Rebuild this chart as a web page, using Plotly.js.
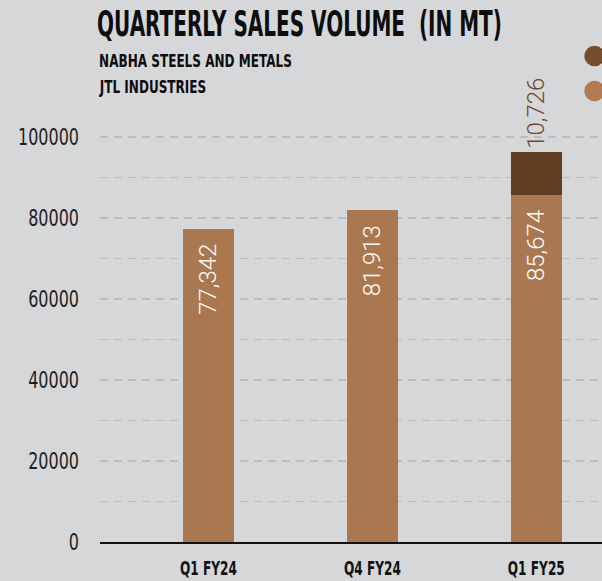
<!DOCTYPE html>
<html>
<head>
<meta charset="utf-8">
<script src="https://cdn.plot.ly/plotly-3.0.1.min.js"></script>
<style>
  html, body { margin: 0; padding: 0; background: #d6d7d9; overflow: hidden; }
  #chart { width: 602px; height: 581px; }
</style>
</head>
<body>
<div id="chart"></div>
<script>
// ---- data ----
const categories = ["Q1 FY24", "Q4 FY24", "Q1 FY25"];
const seriesNames = ["NABHA STEELS AND METALS", "JTL INDUSTRIES"];
const jtlValues = [77342, 81913, 85674];
const nabhaValues = [null, null, 10726];
const yTickVals = [0, 10000, 20000, 30000, 40000, 50000, 60000, 70000, 80000, 90000, 100000];
const yTickText = ["0", "", "20000", "", "40000", "", "60000", "", "80000", "", "100000"];
const titleText = "QUARTERLY SALES VOLUME\u00a0 (IN MT)";

// ---- style ----
const BG = "#d6d7d9";
const JTL_COLOR = "#aa7850";
const NABHA_COLOR = "#613e23";
const SANS = "DejaVu Sans, sans-serif";
const fmt = v => v == null ? "" : v.toLocaleString("en-US");

const traces = [
  {
    type: "bar", name: seriesNames[1], x: categories, y: jtlValues,
    marker: { color: JTL_COLOR },
    text: jtlValues.map(fmt), texttemplate: "%{text}\u00a0\u00a0",
    textposition: "inside", insidetextanchor: "end", textangle: -90,
    constraintext: "none",
    insidetextfont: { family: "Roboto, sans-serif", size: 24, color: "#ffffff", weight: 300 },
    hoverinfo: "skip", showlegend: false
  },
  {
    type: "bar", name: seriesNames[0], x: categories, y: nabhaValues,
    marker: { color: NABHA_COLOR },
    text: nabhaValues.map(fmt), texttemplate: "%{text}",
    textposition: "outside", textangle: -90, constraintext: "none", cliponaxis: false,
    outsidetextfont: { family: "Roboto, sans-serif", size: 24, color: "#6b4a30", weight: 300 },
    hoverinfo: "skip", showlegend: false
  },
  // legend symbols (circles); the series names are shown as labels at top left
  {
    type: "scatter", mode: "markers", name: " ", legendrank: 1,
    x: [categories[2]], y: [null],
    marker: { color: "#774c2b", size: 20, symbol: "circle" }, showlegend: true, hoverinfo: "skip"
  },
  {
    type: "scatter", mode: "markers", name: "\u00a0", legendrank: 2,
    x: [categories[2]], y: [null],
    marker: { color: "#b07b55", size: 20, symbol: "circle" }, showlegend: true, hoverinfo: "skip"
  }
];

const PLOT_TOP = 117, PLOT_BOTTOM = 542;
const PH = PLOT_BOTTOM - PLOT_TOP;

const layout = {
  width: 602, height: 581,
  paper_bgcolor: BG, plot_bgcolor: BG,
  margin: { l: 100, r: 0, t: PLOT_TOP, b: 581 - PLOT_BOTTOM, autoexpand: false },
  barmode: "stack", bargap: 0.69,
  font: { family: SANS, color: "#1a1a1a" },
  title: {
    text: titleText, x: 97 / 602, xanchor: "left", xref: "container",
    y: 1 - 24 / 581, yanchor: "middle", yref: "container",
    font: { family: SANS, size: 35, weight: 700, color: "#0d0d0d" }
  },
  xaxis: {
    type: "category", categoryorder: "array", categoryarray: categories,
    range: [-0.662, 2.401], showgrid: false, zeroline: false,
    showline: true, linecolor: "#111111", linewidth: 2,
    ticks: "", ticklabelstandoff: 8,
    tickfont: { family: SANS, size: 19, weight: 700, color: "#111111" }
  },
  yaxis: {
    range: [0, 105000], tickmode: "array", tickvals: yTickVals, ticktext: yTickText,
    showgrid: true, gridcolor: "#bbbcbe", gridwidth: 1.5, griddash: "8px,6px",
    zeroline: false, showline: false, ticks: "", ticklabelstandoff: 20,
    tickfont: { family: SANS, size: 23, color: "#1e1e1e" }
  },
  showlegend: true,
  legend: {
    x: 570 / 602, xref: "container", xanchor: "left",
    y: 1 - 34 / 581, yref: "container", yanchor: "top",
    bgcolor: "rgba(0,0,0,0)", font: { family: SANS, size: 24.6, color: "#1a1a1a" },
    traceorder: "normal", itemclick: false, itemdoubleclick: false
  },
  annotations: seriesNames.map((n, i) => ({
    text: n, xref: "paper", yref: "paper", x: -3 / 502, xanchor: "left",
    y: (PLOT_BOTTOM - (61 + i * 25.5)) / PH, yanchor: "middle", showarrow: false,
    font: { family: SANS, size: 17, weight: 700, color: "#0d0d0d" }
  }))
};

// horizontal condensing of text (the reference uses a condensed typeface)
function squeeze(el, sx, mode) {
  const b = el.getBBox();
  const px = mode === "left" ? b.x : mode === "right" ? b.x + b.width : b.x + b.width / 2;
  const t = el.getAttribute("transform") || "";
  el.setAttribute("transform", t + ` translate(${px},0) scale(${sx},1) translate(${-px},0)`);
}
function maxWidth(els) { return Math.max(...els.map(e => e.getBBox().width)); }

const gd = document.getElementById("chart");
Plotly.newPlot(gd, traces, layout, { displayModeBar: false, staticPlot: true }).then(() => {
  const title = gd.querySelector(".gtitle");
  if (title) squeeze(title, 405 / title.getBBox().width, "left");

  const yt = [...gd.querySelectorAll(".ytick text")];
  if (yt.length) { const s = 61 / maxWidth(yt); yt.forEach(e => squeeze(e, s, "right")); }

  const xt = [...gd.querySelectorAll(".xtick text")];
  if (xt.length) { const s = 57 / maxWidth(xt); xt.forEach(e => squeeze(e, s, "center")); }

  const an = [...gd.querySelectorAll(".annotation-text")];
  if (an.length) { const s = 193 / maxWidth(an); an.forEach(e => squeeze(e, s, "left")); }

  // legend circles: enlarge to the reference size and place them at the right edge
  const pts = [...gd.querySelectorAll(".legend .legendpoints path")];
  pts.forEach(p => {
    const t = p.getAttribute("transform") || "";
    p.setAttribute("transform", t + " scale(1.29)");
  });
  const lg = gd.querySelector("g.legend");
  if (lg && pts.length) {
    const r = pts[0].getBoundingClientRect();
    const cx = r.left + r.width / 2, cy = r.top + r.height / 2;
    const m = /translate\(([-\d.e]+)[ ,]+([-\d.e]+)\)/.exec(lg.getAttribute("transform") || "");
    if (m) {
      const tx = parseFloat(m[1]) + (594.6 - cx), ty = parseFloat(m[2]) + (56 - cy);
      lg.setAttribute("transform", `translate(${tx},${ty})`);
    }
  }
});
</script>
</body>
</html>
